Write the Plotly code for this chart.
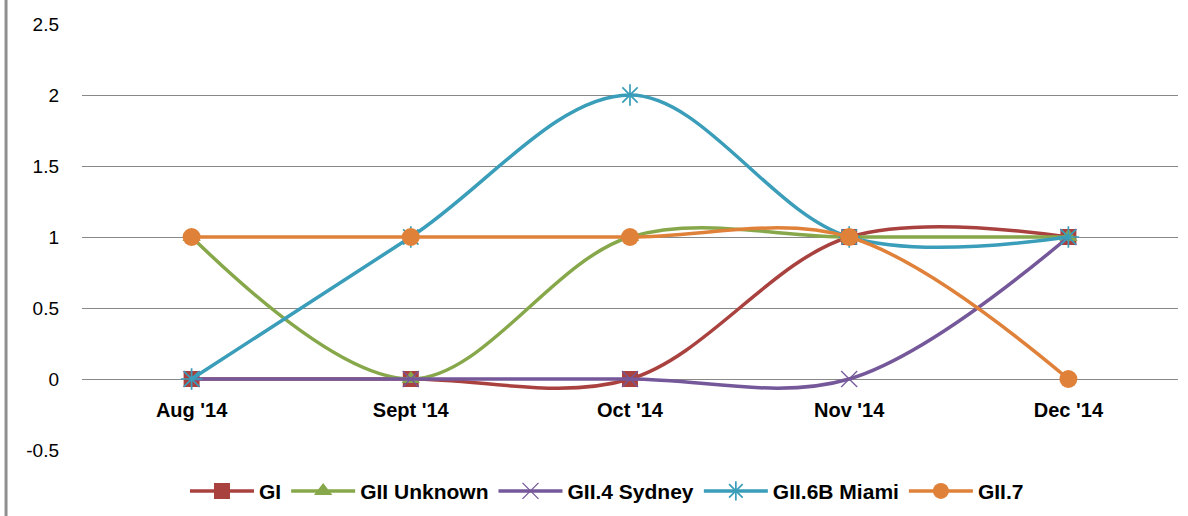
import plotly.graph_objects as go

months = ["Aug '14", "Sept '14", "Oct '14", "Nov '14", "Dec '14"]
gi = [0, 0, 0, 1, 1]
gii_unknown = [1, 0, 1, 1, 1]
gii4_sydney = [0, 0, 0, 0, 1]
gii6b_miami = [0, 1, 2, 1, 1]
gii7 = [1, 1, 1, 1, 0]

y_ticks = [-0.5, 0, 0.5, 1, 1.5, 2, 2.5]
y_labels = ["-0.5", "0", "0.5", "1", "1.5", "2", "2.5"]

series = [
    ("GI", gi, "#A9423F", dict(symbol="square", size=16)),
    ("GII Unknown", gii_unknown, "#87A84A", dict(symbol="triangle-up", size=16)),
    ("GII.4 Sydney", gii4_sydney, "#75589A", dict(symbol="x-thin-open", size=16, line=dict(width=1.3, color="#75589A"))),
    ("GII.6B Miami", gii6b_miami, "#3A9DB9", dict(symbol="asterisk-open", size=18, line=dict(width=1.7, color="#3A9DB9"))),
    ("GII.7", gii7, "#E0813A", dict(symbol="circle", size=18)),
]

fig = go.Figure()
for name, vals, color, mk in series:
    mk = dict(mk)
    mk["color"] = color
    fig.add_trace(go.Scatter(
        x=months, y=vals, name=name, mode="lines+markers",
        line=dict(color=color, width=3.5, shape="spline", smoothing=1),
        marker=mk,
    ))

fig.update_layout(
    width=1188, height=516,
    margin=dict(l=82, r=10, t=24, b=66, autoexpand=False),
    paper_bgcolor="white", plot_bgcolor="white",
    font=dict(family="Liberation Sans, Arial, sans-serif", color="black"),
    showlegend=True,
    legend=dict(orientation="h", x=0.479, xanchor="center", y=0.048, yanchor="middle",
                yref="container",
                font=dict(size=21, family="Liberation Sans, Arial, sans-serif", weight="bold"),
                itemwidth=64, tracegroupgap=0),
    xaxis=dict(
        type="category", range=[-0.5, 4.5], showgrid=False, showline=False,
        zeroline=False, ticks="", anchor="free", position=1/6, automargin=False,
        tickfont=dict(size=20, weight="bold"),
        ticklabelstandoff=17,
    ),
    yaxis=dict(
        range=[-0.5, 2.5], tickvals=y_ticks, ticktext=y_labels, automargin=False,
        showgrid=True, gridcolor="#888888", gridwidth=1,
        zeroline=True, zerolinecolor="#888888", zerolinewidth=1,
        showline=False, ticks="", tickfont=dict(size=19),
        ticklabelstandoff=22,
    ),
    shapes=[dict(type="line", xref="paper", yref="paper",
                 x0=-0.0693, x1=-0.0693, y0=-0.16, y1=1.06,
                 line=dict(color="#8F8F8F", width=3))],
)

fig.write_html("out.html", config={"displayModeBar": False},
               post_script="document.body.style.margin='0px';")
